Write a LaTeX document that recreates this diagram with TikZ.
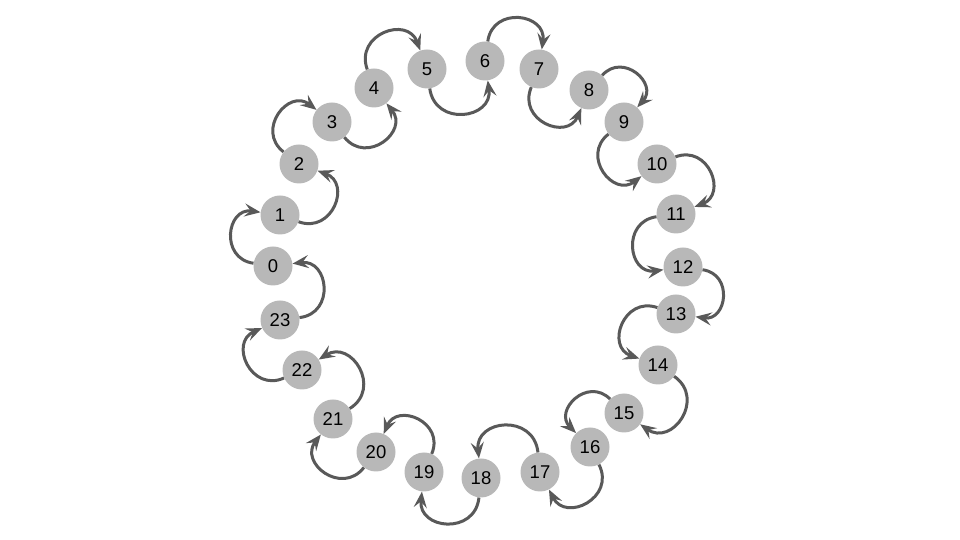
\documentclass[tikz,border=0pt]{standalone}
\usepackage{fontspec}
\setmainfont{Liberation Sans}
\usetikzlibrary{arrows.meta}

\definecolor{dotgray}{HTML}{B8B8B8}
\definecolor{hopgray}{HTML}{595959}

\tikzset{
    num/.style={circle, fill=dotgray, minimum size=39pt, inner sep=0pt, font=\fontsize{18.5}{22}\selectfont},
    hop/.style={draw=hopgray, line width=3pt, -{Stealth[length=16pt, width=13pt, inset=6pt]}, looseness=1.7}
}

\begin{document}
\begin{tikzpicture}[x=1pt, y=1pt]
        \useasboundingbox (0,0) rectangle (960,540);

        \node[num] (n0) at (273,274) {0};
        \node[num] (n1) at (280,325) {1};
        \node[num] (n2) at (299,376) {2};
        \node[num] (n3) at (332,418) {3};
        \node[num] (n4) at (374,452) {4};
        \node[num] (n5) at (427,471) {5};
        \node[num] (n6) at (485,479) {6};
        \node[num] (n7) at (539,471) {7};
        \node[num] (n8) at (589,450) {8};
        \node[num] (n9) at (624,418) {9};
        \node[num] (n10) at (657,376) {10};
        \node[num] (n11) at (676,326) {11};
        \node[num] (n12) at (683,273) {12};
        \node[num] (n13) at (676,226) {13};
        \node[num] (n14) at (658,175) {14};
        \node[num] (n15) at (624,127) {15};
        \node[num] (n16) at (590,93) {16};
        \node[num] (n17) at (540,68) {17};
        \node[num] (n18) at (481,62) {18};
        \node[num] (n19) at (424,68) {19};
        \node[num] (n20) at (376,88) {20};
        \node[num] (n21) at (333,121) {21};
        \node[num] (n22) at (302,170) {22};
        \node[num] (n23) at (280,220) {23};

        % hops, outside and inside by turns
        \draw[hop] (n0.172) to[out=172, in=172] (n1.172);
        \draw[hop] (n1.340) to[out=340, in=340] (n2.340);
        \draw[hop] (n2.142) to[out=142, in=142] (n3.142);
        \draw[hop] (n3.-51) to[out=-51, in=-51] (n4.-51);
        \draw[hop] (n4.110) to[out=110, in=110] (n5.110);
        \draw[hop] (n5.-82) to[out=-82, in=-82] (n6.-82);
        \draw[hop] (n6.82) to[out=82, in=82] (n7.82);
        \draw[hop] (n7.-113) to[out=-113, in=-113] (n8.-113);
        \draw[hop] (n8.48) to[out=48, in=48] (n9.48);
        \draw[hop] (n9.-142) to[out=-142, in=-142] (n10.-142);
        \draw[hop] (n10.21) to[out=21, in=21] (n11.21);
        \draw[hop] (n11.-172) to[out=-172, in=-172] (n12.-172);
        \draw[hop] (n12.-8) to[out=-8, in=-8] (n13.-8);
        \draw[hop] (n13.161) to[out=161, in=161] (n14.161);
        \draw[hop] (n14.-35) to[out=-35, in=-35] (n15.-35);
        \draw[hop] (n15.135) to[out=135, in=135] (n16.135);
        \draw[hop] (n16.-63) to[out=-63, in=-63] (n17.-63);
        \draw[hop] (n17.96) to[out=96, in=96] (n18.96);
        \draw[hop] (n18.-96) to[out=-96, in=-96] (n19.-96);
        \draw[hop] (n19.67) to[out=67, in=67] (n20.67);
        \draw[hop] (n20.232) to[out=232, in=232] (n21.232);
        \draw[hop] (n21.32) to[out=32, in=32] (n22.32);
        \draw[hop] (n22.204) to[out=204, in=204] (n23.204);
        \draw[hop] (n23.7) to[out=7, in=7] (n0.7);
    \end{tikzpicture}
\end{document}
